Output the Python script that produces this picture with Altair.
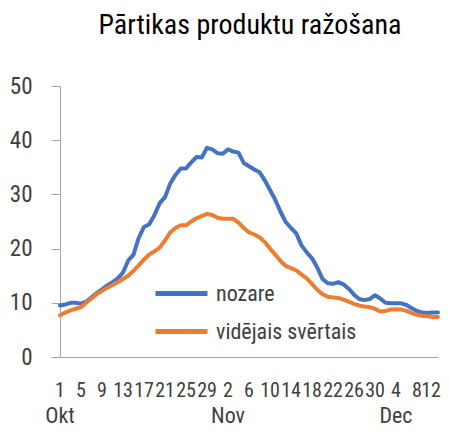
import altair as alt
import pandas as pd

# Day labels (Oct 1 .. Dec 12)
months = ["Okt"] * 31 + ["Nov"] * 30 + ["Dec"] * 12
days = list(range(1, 32)) + list(range(1, 31)) + list(range(1, 13))

nozare = [9.5, 9.7, 10.0, 10.0, 9.85, 10.2, 11.0, 11.8, 12.5, 13.2,
          13.8, 14.5, 15.6, 17.8, 18.9, 22.0, 24.0, 24.5, 26.2, 28.4,
          29.5, 32.0, 33.6, 34.8, 34.8, 35.9, 36.9, 36.8, 38.6, 38.3,
          37.6, 37.5, 38.3, 37.9, 37.7, 35.8, 35.2, 34.6, 34.1, 32.6,
          30.8, 29.0, 26.8, 24.9, 23.8, 22.8, 20.6, 19.3, 18.2, 16.5,
          14.4, 13.6, 13.5, 13.8, 13.4, 12.6, 11.5, 10.7, 10.5, 10.7,
          11.4, 10.8, 10.0, 9.9, 9.9, 9.9, 9.6, 9.0, 8.5, 8.2,
          8.1, 8.2, 8.2]
videjais = [7.7, 8.2, 8.6, 8.9, 9.2, 10.0, 10.8, 11.6, 12.2, 12.8,
            13.3, 13.8, 14.4, 15.0, 15.9, 16.9, 18.0, 18.9, 19.5, 20.2,
            21.5, 23.0, 23.8, 24.3, 24.3, 25.0, 25.6, 26.0, 26.4, 26.2,
            25.7, 25.5, 25.5, 25.5, 24.8, 23.8, 23.0, 22.6, 22.1, 21.2,
            20.0, 18.9, 17.7, 16.8, 16.4, 16.0, 15.2, 14.5, 13.5, 12.4,
            11.6, 11.1, 11.0, 10.9, 10.6, 10.2, 9.8, 9.5, 9.3, 9.2,
            8.9, 8.4, 8.5, 8.75, 8.8, 8.75, 8.5, 8.1, 7.8, 7.6,
            7.5, 7.4, 7.4]
series_names = ["nozare", "vidējais svērtais"]
colors = ["#4472C4", "#ED7D31"]
tick_idx = list(range(0, 73, 4))
tick_text = [str(days[i]) for i in tick_idx]
month_labels = ["Okt", "Nov", "Dec"]
month_pos = [0, 32, 64]

FONT = "Roboto Condensed, DejaVu Sans Condensed, sans-serif"
LBL = "#404040"
AX = "#A6A6A6"

rows = []
for i in range(len(days)):
    rows.append({"idx": i, "day": days[i], "series": series_names[0], "v": nozare[i]})
    rows.append({"idx": i, "day": days[i], "series": series_names[1], "v": videjais[i]})
df = pd.DataFrame(rows)

x = alt.X("idx:Q", scale=alt.Scale(domain=[0, 72], nice=False, zero=False),
          axis=alt.Axis(values=tick_idx, labels=False, title=None,
                        grid=False, ticks=False, domainColor=AX))
y = alt.Y("v:Q", scale=alt.Scale(domain=[0, 50], nice=False),
          axis=alt.Axis(values=[0, 10, 20, 30, 40, 50], title=None, grid=False,
                        tickSize=9, tickColor=AX, domainColor=AX,
                        labelPadding=19, labelFontSize=23, labelFont=FONT,
                        labelColor=LBL))

lines = alt.Chart(df).mark_line(strokeWidth=4, strokeCap="round",
                                 strokeJoin="round").encode(
    x=x, y=y,
    color=alt.Color("series:N", scale=alt.Scale(domain=series_names, range=colors),
                    legend=alt.Legend(orient="none", legendX=106, legendY=192,
                                      title=None, symbolType="M-2,0H2",
                                      symbolStrokeWidth=5, symbolSize=676,
                                      labelFont=FONT, labelFontSize=22,
                                      labelColor=LBL, rowPadding=11,
                                      labelOffset=19, labelLimit=300)),
)

tdf = pd.DataFrame({"idx": tick_idx[:-1], "t": tick_text[:-1]})
ttext = alt.Chart(tdf).mark_text(font=FONT, fontSize=20, color=LBL,
                                 baseline="alphabetic", align="center").encode(
    x=alt.X("idx:Q"), y=alt.value(311), text="t:N")

tdf_last = pd.DataFrame({"idx": tick_idx[-1:], "t": tick_text[-1:]})
ttext_last = alt.Chart(tdf_last).mark_text(font=FONT, fontSize=20, color=LBL,
                                           baseline="alphabetic", align="right",
                                           dx=3).encode(
    x=alt.X("idx:Q"), y=alt.value(311), text="t:N")

mdf = pd.DataFrame({"idx": month_pos, "m": month_labels})
mtext = alt.Chart(mdf).mark_text(font=FONT, fontSize=22, color=LBL,
                                 baseline="alphabetic", align="center").encode(
    x=alt.X("idx:Q"), y=alt.value(337), text="m:N")

chart = alt.layer(lines, ttext, ttext_last, mtext).properties(
    width=378, height=271,
    autosize=alt.AutoSizeParams(type="none"),
    padding={"left": 52, "top": 78, "right": 3, "bottom": 71},
    title=alt.TitleParams("Pārtikas produktu ražošana", font=FONT, fontSize=28,
                          fontWeight="normal", color="#000000", anchor="middle",
                          offset=35, dx=1),
).configure_view(stroke=None)

chart.save("out.html", embed_options={"renderer": "svg", "actions": False})
